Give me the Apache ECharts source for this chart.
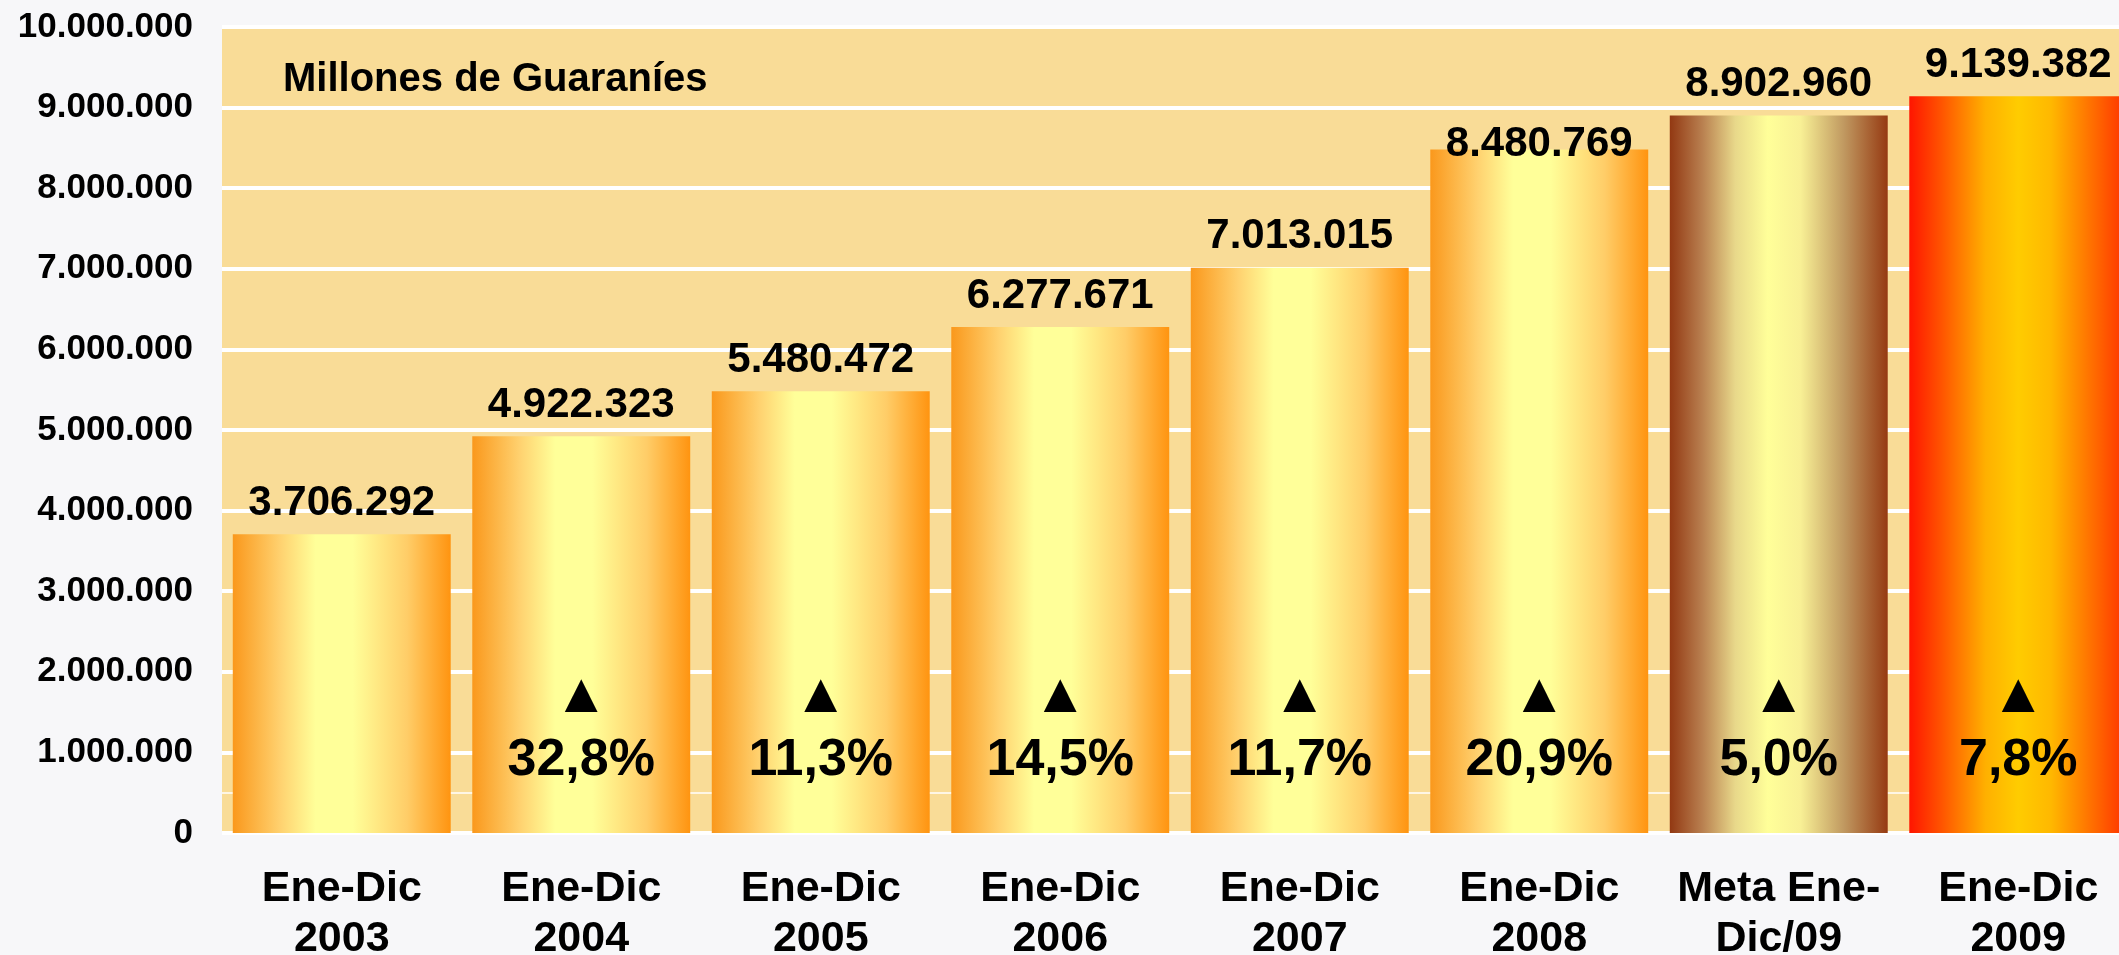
<!DOCTYPE html>
<html>
<head>
<meta charset="utf-8">
<script src="https://cdn.jsdelivr.net/npm/echarts@6/dist/echarts.min.js"></script>
<style>
  html, body { margin: 0; padding: 0; background: #f7f7f9; }
  #chart { width: 2119px; height: 955px; }
</style>
</head>
<body>
<div id="chart"></div>
<script>
const categories = ['Ene-Dic\n2003', 'Ene-Dic\n2004', 'Ene-Dic\n2005', 'Ene-Dic\n2006',
  'Ene-Dic\n2007', 'Ene-Dic\n2008', 'Meta Ene-\nDic/09', 'Ene-Dic\n2009']
const values = [3706292, 4922323, 5480472, 6277671, 7013015, 8480769, 8902960, 9139382]
const growth = [null, '32,8%', '11,3%', '14,5%', '11,7%', '20,9%', '5,0%', '7,8%']
const yTicks = { min: 0, max: 10000000, interval: 1000000 }
const thinLine = 500000
const unitTitle = 'Millones de Guaraníes'

const FONT = 'Liberation Sans, Arial, sans-serif'

// miles con punto
function fmt (v) {
  return String(Math.round(v)).replace(/\B(?=(\d{3})+(?!\d))/g, '.')
}

function grad (stops) {
  return new echarts.graphic.LinearGradient(0, 0, 1, 0, stops.map(function (s) {
    return { offset: s[0], color: s[1] }
  }))
}

const orange = [[0, '#fa981c'], [0.22, '#ffd270'], [0.38, '#ffff99'], [0.55, '#ffff99'], [0.8, '#ffcd68'], [1, '#ff9410']]
const brown = [[0, '#923812'], [0.15, '#b98050'], [0.3, '#e8d88a'], [0.45, '#ffff99'], [0.6, '#f8f095'], [0.8, '#c09860'], [1, '#963a12']]
const red = [[0, '#ff1500'], [0.15, '#ff5500'], [0.35, '#ffb000'], [0.5, '#ffcc00'], [0.65, '#ffb800'], [0.85, '#ff6a00'], [1, '#ff3000']]

const chart = echarts.init(document.getElementById('chart'))

const barData = values.map(function (v, i) {
  const item = {
    value: v,
    itemStyle: { color: grad(i === 6 ? brown : (i === 7 ? red : orange)) }
  }
  // la etiqueta de 2008 queda pegada a la barra
  if (i === 5) item.label = { distance: -16 }
  return item
})

const option = {
  backgroundColor: '#f7f7f9',
  animation: false,
  grid: {
    left: 222,
    top: 27,
    width: 1916,
    bottom: 122,
    containLabel: false,
    outerBoundsMode: 'none',
    show: true,
    backgroundColor: '#f9dc97',
    borderWidth: 0
  },
  graphic: [{
    type: 'text',
    left: 283,
    top: 60,
    style: {
      text: unitTitle,
      font: 'bold 40px ' + FONT,
      fill: '#000'
    }
  }],
  xAxis: {
    type: 'category',
    data: categories,
    axisLine: { show: false },
    axisTick: { show: false },
    axisLabel: {
      margin: 31,
      interval: 0,
      color: '#000',
      fontFamily: FONT,
      fontWeight: 'bold',
      fontSize: 43,
      lineHeight: 50
    }
  },
  yAxis: {
    type: 'value',
    min: yTicks.min,
    max: yTicks.max,
    interval: yTicks.interval,
    axisLine: { show: false },
    axisTick: { show: false },
    splitLine: {
      show: true,
      lineStyle: { color: '#ffffff', width: 4 }
    },
    axisLabel: {
      margin: 29,
      color: '#000',
      fontFamily: FONT,
      fontWeight: 'bold',
      fontSize: 35,
      formatter: fmt
    }
  },
  series: [{
    type: 'bar',
    data: barData,
    barCategoryGap: '9%',
    z: 2,
    label: {
      show: true,
      position: 'top',
      distance: 10,
      color: '#000',
      fontFamily: FONT,
      fontWeight: 'bold',
      fontSize: 42,
      formatter: function (p) { return fmt(p.value) }
    },
    markLine: {
      silent: true,
      symbol: 'none',
      z: 1,
      label: { show: false },
      lineStyle: { color: '#ffffff', width: 1.5, type: 'solid' },
      data: [{ yAxis: thinLine }]
    }
  }, {
    // flecha y crecimiento dentro de la barra
    type: 'bar',
    data: values,
    barGap: '-100%',
    barCategoryGap: '9%',
    silent: true,
    z: 3,
    itemStyle: { color: 'rgba(0,0,0,0)' },
    label: {
      show: true,
      position: 'insideBottom',
      distance: 46,
      color: '#000',
      formatter: function (p) {
        const g = growth[p.dataIndex]
        return g ? '{t|▲}\n{p|' + g + '}' : ''
      },
      rich: {
        t: { fontFamily: FONT, fontSize: 56, lineHeight: 76, color: '#000' },
        p: { fontFamily: FONT, fontWeight: 'bold', fontSize: 52, lineHeight: 52, color: '#000' }
      }
    }
  }]
}

chart.setOption(option)
</script>
</body>
</html>
